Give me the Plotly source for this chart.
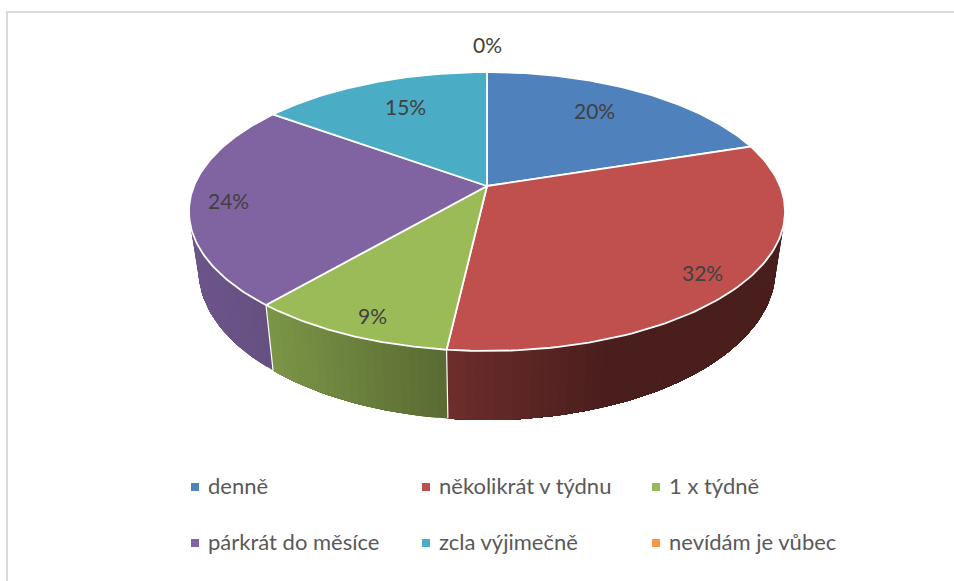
import numpy as np
import plotly.graph_objects as go

categories = ["denně", "několikrát v týdnu", "1 x týdně", "párkrát do měsíce", "zcla výjimečně", "nevídám je vůbec"]
values = [20.0, 31.8, 9.45, 23.75, 15.0, 0.0]
colors = ["#4F81BD", "#C0504D", "#9BBB59", "#8064A2", "#4BACC6", "#F79646"]

###################################### Projection ######################################
# tilted pie, pixel units of the 954x581 page
CX, CY = 487, 186
A, B, K = 293, 134.8, 0.1828   # horizontal scale, vertical scale, perspective
DEPTH = 56.4                   # wall height
FLOOR_X = 0.968                # floor of the wall narrows a bit

# data label placement: radial distance and angle nudge from the middle of the slice
label_r = [0.73, 0.88, 0.89, 0.87, 0.72, 1.28]
label_nudge = [-2.2, 2.5, -1.5, -0.8, 1.5, 0]

# wall shading against page x
shade_x = [190, 270, 447, 610, 785]
shade_f = [0.85, 0.80, 0.58, 0.385, 0.385]


def project(angle, r=1.0):
    # angle in degrees clockwise from the top of the pie
    a = np.radians(angle)
    x, y = r * np.sin(a), r * np.cos(a)
    d = 1 + K * y
    return CX + A * x / d, CY - B * y / d


def floor(angle):
    a = np.radians(angle)
    x, y = np.sin(a), np.cos(a)
    d = 1 + K * y
    return CX + FLOOR_X * A * x / d, CY - B * y / d + DEPTH / d


def shaded(hex_color, px):
    f = np.interp(px, shade_x, shade_f)
    rgb = [int(hex_color[i:i + 2], 16) for i in (1, 3, 5)]
    return "rgb({},{},{})".format(*[int(c * f) for c in rgb])


fig = go.Figure()
edges = np.concatenate([[0], np.cumsum(values) / sum(values) * 360])

###################################### Walls ######################################
# each band runs to the end of its slice and the next one paints over it, so no seams show
for i, c in enumerate(colors):
    start, end = max(edges[i], 80), min(edges[i + 1], 280)
    if end <= start:
        continue
    steps = np.linspace(start, end, max(2, int((end - start) / 1.5) + 1))
    for k in range(len(steps) - 1):
        arc = steps[k:]
        tx, ty = project(arc)
        fx, fy = floor(arc)
        col = shaded(c, tx[0])
        fig.add_trace(go.Scatter(x=[*tx, *fx[::-1], tx[0]], y=[*ty, *fy[::-1], ty[0]], mode="lines",
                                 fill="toself", fillcolor=col, line=dict(width=0),
                                 hoverinfo="skip", showlegend=False))

# white seams on the wall
for e in edges[1:-1]:
    if 90 < e < 270:
        xa, ya = project(e)
        xb, yb = floor(e)
        fig.add_trace(go.Scatter(x=[xa, xb], y=[ya, yb], mode="lines", line=dict(color="white", width=1.2),
                                 hoverinfo="skip", showlegend=False))

###################################### Top face ######################################
for i, (name, c) in enumerate(zip(categories, colors)):
    if values[i] == 0:
        continue
    arc = np.linspace(edges[i], edges[i + 1], 90)
    xs, ys = project(arc)
    fig.add_trace(go.Scatter(x=[CX, *xs, CX], y=[CY, *ys, CY], mode="lines", fill="toself", fillcolor=c,
                             line=dict(color="white", width=1.8), name=name, showlegend=False))

###################################### Labels ######################################
for i, v in enumerate(values):
    lx, ly = project((edges[i] + edges[i + 1]) / 2 + label_nudge[i], label_r[i])
    fig.add_annotation(x=lx, y=ly - 1.5, text=f"{round(v)}%", showarrow=False,
                       font=dict(family="Lato", size=21, color="#404040"))

###################################### Legend ######################################
legend_x = [195, 426, 656]
legend_y = [487, 543]
for i, (name, c) in enumerate(zip(categories, colors)):
    lx, ly = legend_x[i % 3], legend_y[i // 3]
    fig.add_trace(go.Scatter(x=[lx], y=[ly], mode="markers", marker=dict(symbol="square", size=8, color=c),
                             name=name, showlegend=False, hoverinfo="name"))
    fig.add_annotation(x=lx + 10.5, y=ly - 1.5, text=name, showarrow=False, xanchor="left",
                       font=dict(family="Lato", size=22, color="#595959"))

# chart frame, only top and left are in the picture
fig.add_shape(type="line", x0=6, x1=954, y0=12, y1=12, line=dict(color="#d9d9d9", width=2))
fig.add_shape(type="line", x0=7, x1=7, y0=11, y1=581, line=dict(color="#d9d9d9", width=2))

fig.update_xaxes(range=[0, 954], visible=False, fixedrange=True)
fig.update_yaxes(range=[581, 0], visible=False, fixedrange=True)
fig.update_layout(width=954, height=581, margin=dict(l=0, r=0, t=0, b=0),
                  paper_bgcolor="white", plot_bgcolor="white", showlegend=False)
# page default margin would push the figure 8px off
fig.write_html("out.html", config={"displayModeBar": False},
               post_script="document.body.style.margin='0';document.body.style.overflow='hidden';")
